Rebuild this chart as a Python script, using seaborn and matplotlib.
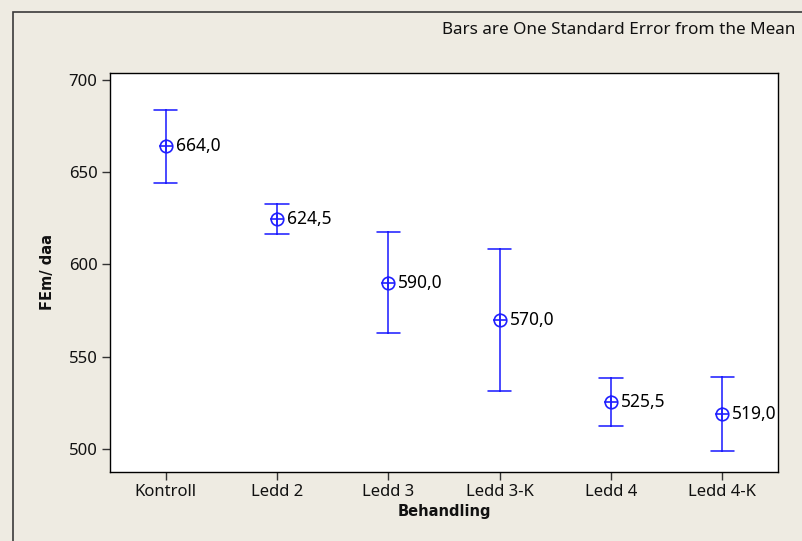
import matplotlib
matplotlib.use("Agg")
import matplotlib.pyplot as plt
from matplotlib.patches import Rectangle
import numpy as np
import pandas as pd
import seaborn as sns

# ---- data ----
categories = ["Kontroll", "Ledd 2", "Ledd 3", "Ledd 3-K", "Ledd 4", "Ledd 4-K"]
means = [664.0, 624.5, 590.0, 570.0, 525.5, 519.0]
lower = [644.2, 616.5, 562.6, 531.6, 512.6, 498.9]   # mean - 1 SE
upper = [683.6, 632.5, 617.5, 608.5, 538.3, 539.1]   # mean + 1 SE
yticks = [500, 550, 600, 650, 700]
title_text = "Bars are One Standard Error from the Mean"
xlabel_text = "Behandling"
ylabel_text = "FEm/ daa"

# long table: lower / mean / upper for each treatment
long_df = pd.DataFrame({
    "Behandling": np.repeat(categories, 3),
    "FEm": np.ravel(np.column_stack([lower, means, upper])),
})

sns.set_theme(style="white")
plt.rcParams["font.family"] = ["Noto Sans", "DejaVu Sans"]

BG = "#eeebe2"
BLUE = "#2020ff"
W, H = 802, 541

fig = plt.figure(figsize=(W / 100, H / 100), dpi=100, facecolor=BG)
ax = fig.add_axes([110 / W, 1 - 471.7 / H, 668 / W, (471.7 - 72.7) / H])
ax.set_facecolor("white")

sns.pointplot(
    data=long_df, x="Behandling", y="FEm", order=categories,
    estimator="median", errorbar=lambda v: (v.min(), v.max()),
    capsize=0.21, color=BLUE, linestyle="none", marker="o",
    markersize=9, markerfacecolor="none", markeredgecolor=BLUE,
    markeredgewidth=1.2, err_kws={"linewidth": 1.15, "color": BLUE}, ax=ax,
)
sns.pointplot(
    data=long_df, x="Behandling", y="FEm", order=categories,
    estimator="median", errorbar=None, color=BLUE, linestyle="none",
    marker="+", markersize=9.5, markeredgewidth=1.2, ax=ax,
)

for i, m in enumerate(means):
    ax.annotate(f"{m:.1f}".replace(".", ","), (i, m), xytext=(7.2, 0),
                textcoords="offset points", ha="left", va="center",
                fontsize=12.5, color="black")

ax.set_xlim(-0.5, len(categories) - 0.5)
ax.set_ylim(487.7, 703.8)
ax.set_yticks(yticks)
ax.set_yticklabels([str(t) for t in yticks])

for s in ax.spines.values():
    s.set_color("black")
    s.set_linewidth(1.0)
    s.set_visible(True)

ax.tick_params(axis="both", which="major", direction="out", length=5.5,
               width=1.0, color="#333333", labelsize=12, labelcolor="#111111",
               bottom=True, left=True, pad=3.5)

bold_font = dict(family=["DejaVu Sans"], fontsize=10.5, fontweight="bold",
                 color="#111111")
ax.set_xlabel(xlabel_text, **bold_font)
ax.set_ylabel(ylabel_text, **bold_font)
ax.xaxis.set_label_coords(0.5, -0.081)
ax.yaxis.set_label_coords(-0.082, 0.5)

fig.text(795 / W, 1 - 30 / H, title_text, ha="right", va="center",
         fontsize=12.3, color="#111111")

# outer graph frame (left and top edges visible)
fig.add_artist(Rectangle((13.3 / W, -0.1), 1.2, 1.1 - 11.7 / H,
                         transform=fig.transFigure, fill=False,
                         edgecolor="#3a3a3a", linewidth=1.2))

fig.savefig("out.png", dpi=100, facecolor=BG)
